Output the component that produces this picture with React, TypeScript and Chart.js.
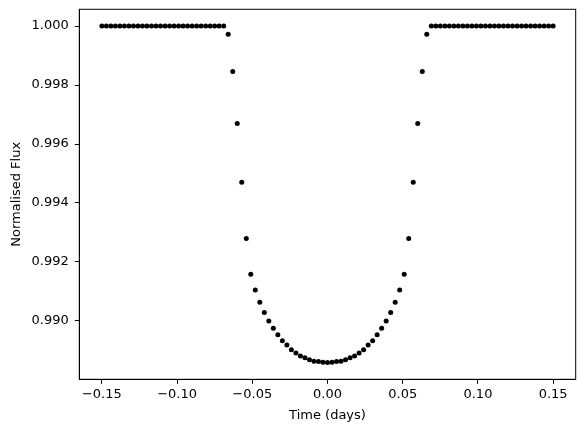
import React, { useEffect, useRef } from "react";
import { Chart, registerables } from "chart.js";

Chart.register(...registerables);

const times = [
  -0.150, -0.147, -0.144, -0.141, -0.138, -0.135, -0.132, -0.129, -0.126, -0.123,
  -0.120, -0.117, -0.114, -0.111, -0.108, -0.105, -0.102, -0.099, -0.096, -0.093,
  -0.090, -0.087, -0.084, -0.081, -0.078, -0.075, -0.072, -0.069, -0.066, -0.063,
  -0.060, -0.057, -0.054, -0.051, -0.048, -0.045, -0.042, -0.039, -0.036, -0.033,
  -0.030, -0.027, -0.024, -0.021, -0.018, -0.015, -0.012, -0.009, -0.006, -0.003,
  0.000,
  0.003, 0.006, 0.009, 0.012, 0.015, 0.018, 0.021, 0.024, 0.027, 0.030,
  0.033, 0.036, 0.039, 0.042, 0.045, 0.048, 0.051, 0.054, 0.057, 0.060,
  0.063, 0.066, 0.069, 0.072, 0.075, 0.078, 0.081, 0.084, 0.087, 0.090,
  0.093, 0.096, 0.099, 0.102, 0.105, 0.108, 0.111, 0.114, 0.117, 0.120,
  0.123, 0.126, 0.129, 0.132, 0.135, 0.138, 0.141, 0.144, 0.147, 0.150,
];

const flux = [
  1.0, 1.0, 1.0, 1.0, 1.0, 1.0, 1.0, 1.0, 1.0, 1.0,
  1.0, 1.0, 1.0, 1.0, 1.0, 1.0, 1.0, 1.0, 1.0, 1.0,
  1.0, 1.0, 1.0, 1.0, 1.0, 1.0, 1.0, 1.0, 0.99972, 0.99846,
  0.99670, 0.99470, 0.99280, 0.99158, 0.99105, 0.99063, 0.99029, 0.99000, 0.98975, 0.98953,
  0.98933, 0.98918, 0.98902, 0.98891, 0.98881, 0.98875, 0.98868, 0.98863, 0.98862, 0.98860,
  0.98859,
  0.98860, 0.98862, 0.98863, 0.98868, 0.98875, 0.98881, 0.98891, 0.98902, 0.98918, 0.98933,
  0.98953, 0.98975, 0.99000, 0.99029, 0.99063, 0.99105, 0.99158, 0.99280, 0.99470, 0.99670,
  0.99846, 0.99972, 1.0, 1.0, 1.0, 1.0, 1.0, 1.0, 1.0, 1.0,
  1.0, 1.0, 1.0, 1.0, 1.0, 1.0, 1.0, 1.0, 1.0, 1.0,
  1.0, 1.0, 1.0, 1.0, 1.0, 1.0, 1.0, 1.0, 1.0, 1.0,
];

const xTicks = [-0.15, -0.1, -0.05, 0.0, 0.05, 0.1, 0.15];
const yTicks = [0.99, 0.992, 0.994, 0.996, 0.998, 1.0];
const xLabel = "Time (days)";
const yLabel = "Normalised Flux";

const FONT = "'DejaVu Sans', sans-serif";
const FS = 13;

const framePlugin = {
  id: "frame",
  afterDraw(chart: any) {
    const { ctx, chartArea } = chart;
    ctx.save();
    ctx.strokeStyle = "#000";
    ctx.lineWidth = 1;
    ctx.strokeRect(chartArea.left, chartArea.top, chartArea.right - chartArea.left, chartArea.bottom - chartArea.top);
    ctx.restore();
  },
};

export default function App() {
  const ref = useRef<HTMLCanvasElement | null>(null);

  useEffect(() => {
    document.body.style.margin = "0";
    const canvas = ref.current;
    if (!canvas) return;
    const data = times.map((t, i) => ({ x: t, y: flux[i] }));
    const chart = new Chart(canvas, {
      type: "scatter",
      data: {
        datasets: [
          {
            data,
            backgroundColor: "#000",
            borderWidth: 0,
            pointRadius: 2.5,
            pointHoverRadius: 2.5,
          },
        ],
      },
      options: {
        responsive: false,
        animation: false,
        devicePixelRatio: 1,
        layout: { padding: { top: 9.3, right: 9.3, left: 0, bottom: 0 } },
        plugins: { legend: { display: false }, tooltip: { enabled: false } },
        scales: {
          x: {
            type: "linear",
            min: -0.165,
            max: 0.165,
            afterBuildTicks: (s: any) => {
              s.ticks = xTicks.map((v) => ({ value: v }));
            },
            afterFit: (s: any) => {
              s.height = 52.7;
              s.paddingLeft = 0;
              s.paddingRight = 0;
            },
            ticks: {
              color: "#000",
              font: { family: FONT, size: FS },
              padding: 3,
              maxRotation: 0,
              autoSkip: false,
              callback: (v: any) => Number(v).toFixed(2).replace("-", "\u2212"),
            },
            grid: {
              drawOnChartArea: false,
              drawTicks: true,
              tickLength: 4.5,
              tickColor: "#000",
              color: "#000",
            },
            border: { display: true, color: "#000", width: 1 },
            title: {
              display: true,
              text: xLabel,
              color: "#000",
              font: { family: FONT, size: FS },
              padding: { top: 0, bottom: 9 },
            },
          },
          y: {
            type: "linear",
            min: 0.98802,
            max: 1.00057,
            afterBuildTicks: (s: any) => {
              s.ticks = yTicks.map((v) => ({ value: v }));
            },
            afterFit: (s: any) => {
              s.width = 79.3;
              s.paddingTop = 0;
              s.paddingBottom = 0;
            },
            ticks: {
              color: "#000",
              font: { family: FONT, size: FS },
              padding: 6,
              autoSkip: false,
              callback: (v: any) => Number(v).toFixed(3),
            },
            grid: {
              drawOnChartArea: false,
              drawTicks: true,
              tickLength: 4.5,
              tickColor: "#000",
              color: "#000",
            },
            border: { display: true, color: "#000", width: 1 },
            title: {
              display: true,
              text: yLabel,
              color: "#000",
              font: { family: FONT, size: FS },
              padding: { top: 9, bottom: 0 },
            },
          },
        },
      },
      plugins: [framePlugin],
    });
    return () => chart.destroy();
  }, []);

  return (
    <div style={{ position: "fixed", left: 0, top: 0, width: 585, height: 432, background: "#fff" }}>
      <canvas ref={ref} width={585} height={432} style={{ width: 585, height: 432, display: "block" }} />
    </div>
  );
}
